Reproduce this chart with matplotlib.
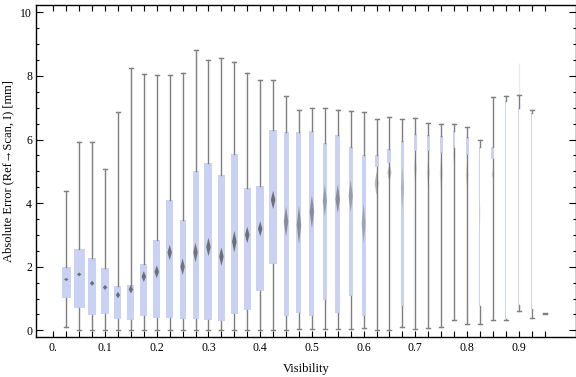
import numpy as np
import matplotlib
matplotlib.use("Agg")
import matplotlib.pyplot as plt
from matplotlib.ticker import MultipleLocator, FixedLocator, FuncFormatter

# ---- data ----
visibility = [round(0.025 * (i + 1), 3) for i in range(38)]
whisker_hi = [4.37, 5.91, 5.91, 5.06, 6.86, 8.24, 8.06, 8.03, 8.03, 8.09,
              8.81, 8.50, 8.55, 8.45, 8.08, 7.86, 7.86, 7.36, 6.92, 6.98,
              6.98, 6.92, 6.90, 6.86, 6.63, 6.70, 6.63, 6.67, 6.51, 6.48,
              6.48, 6.38, 5.98, 7.33, 7.37, 7.40, 6.93, 0.56]
q3 = [1.98, 2.55, 2.27, 1.95, 1.39, 1.42, 2.08, 2.84, 4.10, 3.47,
      5.01, 5.26, 4.88, 5.54, 4.47, 4.54, 6.30, 6.23, 6.23, 6.27,
      5.88, 6.14, 5.76, 5.51, 5.51, 5.70, 5.95, 6.16, 6.14, 6.10,
      6.26, 6.07, 5.77, 5.77, 7.22, 7.00, 6.82, 0.55]
q1 = [1.03, 0.71, 0.48, 0.52, 0.36, 0.33, 0.44, 0.40, 0.40, 0.37,
      0.37, 0.33, 0.30, 0.51, 0.65, 1.25, 2.09, 0.44, 0.55, 0.46,
      0.95, 0.55, 1.09, 0.46, 5.15, 5.27, 0.76, 5.65, 5.65, 5.59,
      5.72, 5.51, 0.76, 5.38, 0.35, 0.80, 0.68, 0.52]
whisker_lo = [0.09, 0.0, 0.0, 0.0, 0.0, 0.0, 0.0, 0.0, 0.0, 0.0,
              0.0, 0.0, 0.0, 0.0, 0.0, 0.0, 0.0, 0.0, 0.03, 0.03,
              0.03, 0.03, 0.03, 0.06, 0.0, 0.0, 0.09, 0.03, 0.06, 0.12,
              0.31, 0.21, 0.21, 0.34, 0.32, 0.62, 0.40, 0.50]
mean = [1.60, 1.76, 1.48, 1.35, 1.11, 1.29, 1.69, 1.84, 2.45, 2.00,
        2.45, 2.62, 2.32, 2.79, 3.00, 3.19, 4.10, 3.42, 3.31, 3.73,
        4.08, 4.13, 4.22, 3.36, 4.62, 4.96, 4.46, 5.09, 4.94, 4.94,
        5.54, 4.88, 3.68, 4.90, np.nan, np.nan, np.nan, np.nan]
mean_ci = [0.05, 0.06, 0.08, 0.08, 0.10, 0.13, 0.17, 0.20, 0.24, 0.26,
           0.31, 0.29, 0.29, 0.34, 0.26, 0.24, 0.29, 0.47, 0.60, 0.52,
           0.50, 0.45, 0.50, 0.62, 0.37, 0.29, 0.68, 0.47, 0.47, 0.58,
           0.34, 0.38, 0.42, 0.12, np.nan, np.nan, np.nan, np.nan]
faint_max = {36: 8.42}   # faint upper extension of box 36
x_tick_labels = ["0.", "0.1", "0.2", "0.3", "0.4", "0.5", "0.6", "0.7", "0.8", "0.9"]

# ---- styles ----
box_w_px = [9, 11, 8.7, 8.7, 7, 7, 7, 7, 7, 6, 6, 8, 7.3, 7, 7, 7.7, 7.3, 5, 5, 5,
            4.3, 5, 4.3, 4, 4, 4, 3.3, 3, 3, 3, 2.7, 3, 1, 3, 1, 0.6, 1, 2]
BOX_C = "#cad2f4"
WHISK_C = "#7f7f7f"
DIAM_C = "#5e5e5e"
SERIF = ["Liberation Serif", "DejaVu Serif"]

fig = plt.figure(figsize=(5.76, 3.77), dpi=100)
ax = fig.add_axes([36.3 / 576, 1 - 336.7 / 377, (575.5 - 36.3) / 576, (336.7 - 5) / 377])
xmin, xmax = -0.0329, 1.0097
ymin, ymax = -0.2, 10.23
ax.set_xlim(xmin, xmax)
ax.set_ylim(ymin, ymax)

axw_px = 575.5 - 36.3
px2x = (xmax - xmin) / axw_px
axh_px = 336.7 - 5
px2y = (ymax - ymin) / axh_px

stats = []
for i in range(38):
    stats.append(dict(med=np.nan, q1=q1[i], q3=q3[i], whislo=whisker_lo[i],
                      whishi=whisker_hi[i], fliers=[]))
widths = [w * px2x for w in box_w_px]
ax.bxp(stats, positions=visibility, widths=widths, capwidths=[4 * px2x] * 38,
       patch_artist=True, showfliers=False, manage_ticks=False,
       boxprops=dict(facecolor=BOX_C, edgecolor="none", linewidth=0),
       whiskerprops=dict(color=WHISK_C, linewidth=1.0),
       capprops=dict(color=WHISK_C, linewidth=1.0),
       medianprops=dict(linewidth=0))

for k, top in faint_max.items():
    ax.vlines(visibility[k - 1], whisker_hi[k - 1], top, color=WHISK_C, alpha=0.15, lw=1.0)

for i in range(38):
    if np.isnan(mean[i]):
        continue
    dw = min(4.5, box_w_px[i]) / 2 * px2x
    h = max(mean_ci[i], 1.5 * px2y)
    x0 = visibility[i]
    alpha = float(np.clip((box_w_px[i] - 2) / 5, 0.15, 0.85))
    ax.fill([x0, x0 + dw, x0, x0 - dw], [mean[i] - h, mean[i], mean[i] + h, mean[i]],
            color=DIAM_C, alpha=alpha, lw=0, zorder=4)

# ---- axes ----
for s in ax.spines.values():
    s.set_color("black")
    s.set_linewidth(1.0)
xt = [0.0] + visibility
ax.xaxis.set_major_locator(FixedLocator(xt))
ax.xaxis.set_major_formatter(FuncFormatter(
    lambda v, p: x_tick_labels[int(round(v * 10))] if abs(v * 10 - round(v * 10)) < 1e-6 and round(v * 10) < len(x_tick_labels) else ""))
ax.yaxis.set_major_locator(MultipleLocator(2))
ax.yaxis.set_minor_locator(MultipleLocator(0.5))
ax.tick_params(axis="both", which="both", direction="in", top=True, right=True, color="black")
ax.tick_params(axis="x", which="major", length=4, width=0.8, pad=4)
ax.tick_params(axis="y", which="major", length=5, width=0.8, pad=3)
ax.tick_params(axis="y", which="minor", length=2.5, width=0.8)
for lab in ax.get_xticklabels() + ax.get_yticklabels():
    lab.set_fontfamily(SERIF)
    lab.set_fontsize(8.5)
ax.set_xlabel("Visibility", fontfamily=SERIF, fontsize=9, labelpad=6)
ax.set_ylabel("Absolute Error (Ref\u2192Scan, I) [mm]", fontfamily=SERIF, fontsize=9, labelpad=4)

fig.savefig("out.png", dpi=100)
